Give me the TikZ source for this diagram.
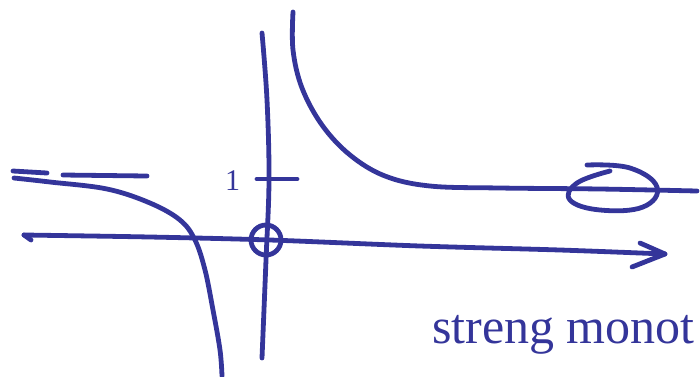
\documentclass[tikz,border=0pt]{standalone}
\usepackage{fontspec}
\setmainfont{Liberation Serif}
\definecolor{ink}{HTML}{34359A}
\begin{document}
\begin{tikzpicture}[x=1pt,y=-1pt,
  pen/.style={draw=ink,line width=4.8pt,line cap=round,line join=round},
  hand/.style={text=ink,font=\fontsize{50}{54}\selectfont,inner sep=0pt,anchor=base west}]
\useasboundingbox (0,0) rectangle (700,376);
% vertical axis
\draw[pen] plot[smooth,tension=0.6] coordinates {(262,33) (267,100) (269,180) (266,260) (262,358)};
% horizontal axis
\draw[pen] plot[smooth,tension=0.5] coordinates {(24,235) (150,237) (270,240) (420,246) (560,250) (665,254)};
\draw[pen] (24,235) -- (31,240);
\draw[pen] (640,243) -- (665,254) -- (632,267);
% circle at origin
\draw[pen] (266,240) circle[radius=15];
% tick at 1
\draw[pen] (257,179) -- (297,179);
\node[hand,font=\fontsize{30}{34}\selectfont] (one) at (225,190) {1};
% right branch
\draw[pen] plot[smooth,tension=0.6] coordinates {(293,12) (293,50) (302,88) (322,125) (350,155) (385,176) (430,186) (500,188) (600,189) (697,191)};
% loop around right end
\draw[pen] plot[smooth,tension=0.7] coordinates {(587,165) (630,168) (657,187) (643,207) (600,210) (570,200) (577,183) (610,171)};
% left branch
\draw[pen] plot[smooth,tension=0.6] coordinates {(14,178) (50,182) (107,189) (150,203) (180,220) (195,240) (205,270) (213,310) (220,350) (222,376)};
% dashes (asymptote)
\draw[pen] (13,171) -- (47,173);
\draw[pen] (63,175) -- (147,176);
% label
\node[hand] (mono) at (432,343) {streng monot};
\end{tikzpicture}
\end{document}
